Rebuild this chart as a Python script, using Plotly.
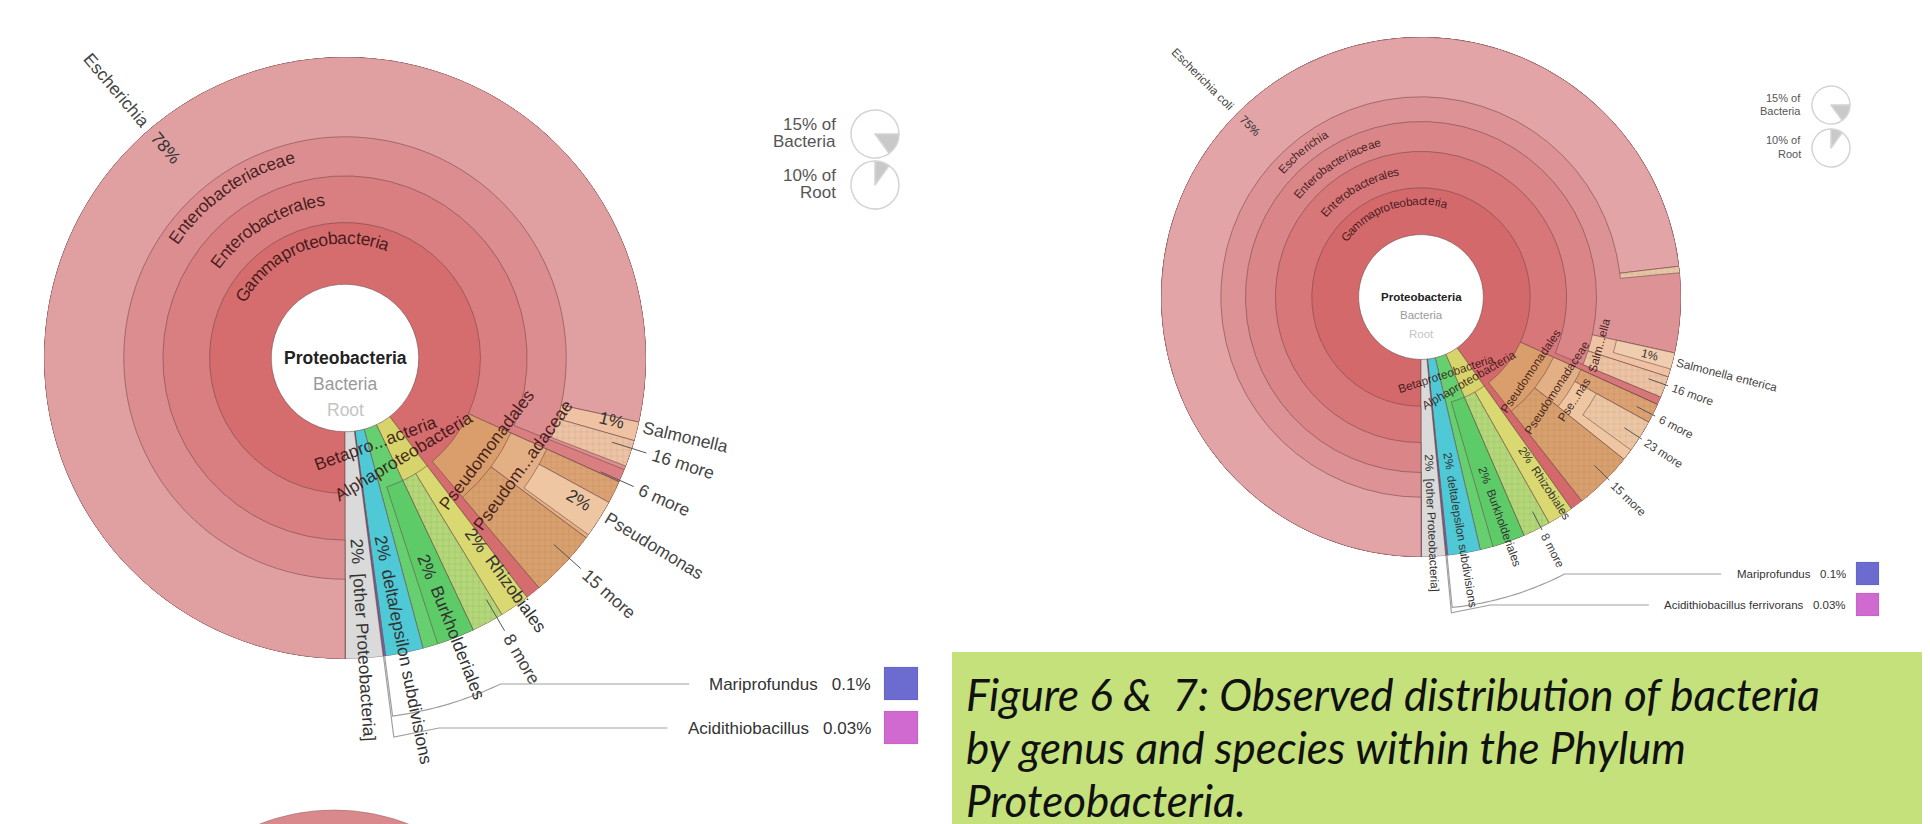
import math
import plotly.graph_objects as go

W, H = 1930, 824

# ======================= DATA =======================
# Figure 6 (genus level) - values in % of Proteobacteria, Krona order (clockwise from 6 o'clock)
f6_ids = ["Gammaproteobacteria", "Enterobacterales", "Enterobacteriaceae", "Escherichia", "Salmonella", "16 more",
          "Pseudomonadales", "Pseudomonadaceae", "6 more", "Pseudomonas", "15 more",
          "Alphaproteobacteria", "Rhizobiales", "8 more",
          "Betaproteobacteria", "Burkholderiales",
          "deltaepsilon subdivisions", "Mariprofundus", "Acidithiobacillus", "[other Proteobacteria]"]
f6_parents = ["", "Gammaproteobacteria", "Enterobacterales", "Enterobacteriaceae", "Enterobacteriaceae", "Enterobacteriaceae",
              "Gammaproteobacteria", "Pseudomonadales", "Pseudomonadaceae", "Pseudomonadaceae", "Pseudomonadales",
              "", "Alphaproteobacteria", "Alphaproteobacteria",
              "", "Betaproteobacteria",
              "", "", "", ""]
f6_values = [88.6, 80.8, 80.1, 77.5, 1.0, 1.4,
             7.0, 3.4, 1.2, 2.0, 3.6,
             3.3, 1.6, 1.7,
             2.8, 2.0,
             2.0, 0.1, 0.03, 2.0]
f6_pct = {"Escherichia": "78%", "Salmonella": "1%", "Pseudomonas": "2%", "Rhizobiales": "2%",
          "Burkholderiales": "2%", "deltaepsilon subdivisions": "2%", "[other Proteobacteria]": "2%"}
f6_key_names = ["Mariprofundus", "Acidithiobacillus"]
f6_key_pcts = ["0.1%", "0.03%"]

# Figure 7 (species level)
f7_ids = ["Gammaproteobacteria", "Enterobacterales", "Enterobacteriaceae", "Escherichia", "Escherichia coli",
          "other Escherichia", "Salmonella", "Salmonella enterica", "16 more",
          "Pseudomonadales", "Pseudomonadaceae", "6 more", "Pseudomonas", "23 more", "15 more",
          "Alphaproteobacteria", "Rhizobiales", "8 more",
          "Betaproteobacteria", "Burkholderiales",
          "deltaepsilon subdivisions", "Mariprofundus", "Acidithiobacillus ferrivorans", "[other Proteobacteria]"]
f7_parents = ["", "Gammaproteobacteria", "Enterobacterales", "Enterobacteriaceae", "Escherichia",
              "Escherichia", "Enterobacteriaceae", "Salmonella", "Enterobacteriaceae",
              "Gammaproteobacteria", "Pseudomonadales", "Pseudomonadaceae", "Pseudomonadaceae", "Pseudomonas", "Pseudomonadales",
              "", "Alphaproteobacteria", "Alphaproteobacteria",
              "", "Betaproteobacteria",
              "", "", "", ""]
f7_values = [89.3, 81.0, 80.5, 77.7, 72.4,
             0.4, 1.5, 1.0, 1.3,
             7.5, 3.9, 1.2, 2.7, 2.0, 3.6,
             3.3, 1.6, 1.7,
             2.8, 2.0,
             2.0, 0.1, 0.03, 1.5]
f7_pct = {"Escherichia coli": "75%", "Salmonella enterica": "1%", "Rhizobiales": "2%",
          "Burkholderiales": "2%", "deltaepsilon subdivisions": "2%", "[other Proteobacteria]": "2%"}
f7_key_names = ["Mariprofundus", "Acidithiobacillus ferrivorans"]
f7_key_pcts = ["0.1%", "0.03%"]

# Krona "share of ancestor" pies
share_labels = ["15% of", "10% of"]
share_parents = ["Bacteria", "Root"]
share_values = [15, 10]

caption_lines = ["Figure 6 &  7: Observed distribution of bacteria",
                 "by genus and species within the Phylum",
                 "Proteobacteria."]

# ======================= STYLE =======================
FONT = "Liberation Sans"
COL = {
    "Gammaproteobacteria": "#d56c6e", "Enterobacterales": "#d97f81", "Enterobacteriaceae": "#dc8d8f",
    "Escherichia": "#e0a0a2", "Escherichia coli": "#e2a4a6", "other Escherichia": "#e9c7a6",
    "Salmonella": "#eec2a2", "Salmonella enterica": "#f1cdb0", "16 more": "#eec3a4",
    "Pseudomonadales": "#d99e6b", "Pseudomonadaceae": "#e3b086", "6 more": "#dca272",
    "Pseudomonas": "#eec6a2", "23 more": "#edc7a4", "15 more": "#d99f6c",
    "Alphaproteobacteria": "#d6d46b", "Rhizobiales": "#dad870", "8 more": "#b3d878",
    "Betaproteobacteria": "#66cf70", "Burkholderiales": "#5dcc68",
    "deltaepsilon subdivisions": "#4fc9d6", "Mariprofundus": "#6b6bd0",
    "Acidithiobacillus": "#d06ad0", "Acidithiobacillus ferrivorans": "#d06ad0",
    "[other Proteobacteria]": "#dadada",
}
COL7 = dict(COL)
COL7.update({"Gammaproteobacteria": "#d4696c", "Enterobacterales": "#d7777a", "Enterobacteriaceae": "#da8588",
             "Escherichia": "#dd9396"})
HATCH = {"16 more", "6 more", "15 more", "8 more", "23 more", "other Escherichia"}

S6 = dict(cx=337, cy=350, R=301, rings=[0.245, 0.45, 0.605, 0.735], fs=17.5)
S7 = dict(cx=1413, cy=289, R=260, rings=[0.24, 0.42, 0.56, 0.675, 0.77], fs=11.8)

# Helvetica/Arial advance widths (1/1000 em)
_HW = {' ': 278, '%': 889, '.': 278, '/': 278, '[': 278, ']': 278, '&': 667, ':': 278, '0': 556, '1': 556,
       '2': 556, '3': 556, '5': 556, '6': 556, '7': 556, '8': 556, '9': 556,
       'A': 667, 'B': 667, 'C': 722, 'E': 667, 'G': 778, 'P': 667, 'R': 722, 'S': 667, 'M': 833,
       'a': 556, 'b': 556, 'c': 500, 'd': 556, 'e': 556, 'f': 278, 'g': 556, 'h': 556, 'i': 222, 'j': 222,
       'k': 500, 'l': 222, 'm': 833, 'n': 556, 'o': 556, 'p': 556, 'q': 556, 'r': 333, 's': 500, 't': 278,
       'u': 556, 'v': 500, 'w': 722, 'x': 500, 'y': 500, 'z': 500}


def cw(ch):
    return _HW.get(ch, 556) / 1000.0


def tw(s, size):
    return sum(cw(c) for c in s) * size


# ======================= LAYOUT HELPERS =======================
def layout_tree(ids, parents, values, start=180.0):
    val = dict(zip(ids, values))
    kids = {}
    for i, p in zip(ids, parents):
        kids.setdefault(p, []).append(i)
    total = sum(val[c] for c in kids[""])
    k = 360.0 / total
    geo = {}

    def place(n, a0, d):
        geo[n] = (a0, a0 + val[n] * k, d)
        a = a0
        for c in kids.get(n, []):
            place(c, a, d + 1)
            a += val[c] * k

    a = start
    for c in kids[""]:
        place(c, a, 1)
        a += val[c] * k
    return geo


def mid(geo, n):
    a0, a1, _ = geo[n]
    return ((a0 + a1) / 2.0) % 360


def pt(S, theta, rf):
    t = math.radians(theta)
    return S["cx"] + rf * S["R"] * math.sin(t), S["cy"] - rf * S["R"] * math.cos(t)


def krona_trace(ids, geo, S, colors, subplot):
    order = sorted(ids, key=lambda n: geo[n][2])
    r, base, th, wd, col, pat = [], [], [], [], [], []
    for n in order:
        a0, a1, d = geo[n]
        b = S["rings"][d - 1]
        base.append(b)
        r.append(1 - b)
        th.append((a0 + a1) / 2.0)
        wd.append(a1 - a0)
        col.append(colors[n])
        pat.append("+" if n in HATCH else "")
    return go.Barpolar(r=r, base=base, theta=th, width=wd, subplot=subplot,
                       marker=dict(color=col, line=dict(color="rgba(110,70,70,0.55)", width=1),
                                   pattern=dict(shape=pat, fillmode="overlay", fgcolor="rgba(120,80,60,0.9)",
                                                fgopacity=0.25, size=6, solidity=0.12)),
                       hoverinfo="skip", showlegend=False)


def polar_layout(S):
    cx, cy, R = S["cx"], S["cy"], S["R"]
    return dict(domain=dict(x=[(cx - R) / W, (cx + R) / W], y=[(H - cy - R) / H, (H - cy + R) / H]),
                bgcolor="rgba(0,0,0,0)", bargap=0, hole=0,
                radialaxis=dict(range=[0, 1], visible=False, showgrid=False, showline=False, ticks=""),
                angularaxis=dict(visible=False, direction="clockwise", rotation=90, showgrid=False,
                                 showline=False, ticks=""))


ANN = []
SHAPES = []


def txt(x, y, s, size, color="#333", angle=0, xanchor="center", family=FONT):
    ANN.append(dict(x=x, y=y, xref="x", yref="y", text=s, showarrow=False, textangle=angle,
                    xanchor=xanchor, yanchor="middle", font=dict(family=family, size=size, color=color)))


def arc_text(S, theta_c, rf, s, size, color):
    rp = rf * S["R"]
    widths = [cw(c) * size for c in s]
    span = sum(widths) / rp
    top = math.cos(math.radians(theta_c)) >= 0
    t0 = math.radians(theta_c) + (-span / 2 if top else span / 2)
    sg = 1 if top else -1
    acc = 0
    for c, w in zip(s, widths):
        t = t0 + sg * (acc + w / 2) / rp
        acc += w
        if c == " ":
            continue
        x = S["cx"] + rp * math.sin(t)
        y = S["cy"] - rp * math.cos(t)
        ang = math.degrees(t) if top else math.degrees(t) - 180
        ang = (ang + 180) % 360 - 180
        txt(x, y, c, size, color, ang)


def tang_text(S, theta, rf, s, size, color, angle=None):
    x, y = pt(S, theta, rf)
    top = math.cos(math.radians(theta)) >= 0
    a = theta if top else theta - 180
    if angle is not None:
        a = angle
    a = (a + 180) % 360 - 180
    txt(x, y, s, size, color, a)


def radial_text(S, theta, r_start_px, s, size, color):
    """text reading outward (right half) starting at r_start_px"""
    w = tw(s, size)
    rc = (r_start_px + w / 2) / S["R"]
    x, y = pt(S, theta, rc)
    txt(x, y, s, size, color, theta - 90)
    return r_start_px + w


def line(pts, color="#9a9a9a", width=1):
    d = "M " + " L ".join("%.1f,%.1f" % p for p in pts)
    SHAPES.append(dict(type="path", path=d, xref="x", yref="y", layer="above",
                       line=dict(color=color, width=width)))


def leaf_label(S, geo, n, name, pct, outside, size, dth=0.0):
    th = mid(geo, n) + dth
    R = S["R"]
    a0, a1, d = geo[n]
    rin = S["rings"][d - 1]
    if outside:
        pr = 0.91 * R
        x, y = pt(S, th, pr / R)
        txt(x, y, pct, size, "#333", th - 90)
        radial_text(S, th, R + 0.3 * size, name, size, "#444")
    else:
        pc = ((rin + 1) / 2 + 0.02) * R
        x, y = pt(S, th, pc / R)
        txt(x, y, pct, size, "#333", th - 90)
        radial_text(S, th, pc + tw(pct, size) / 2 + 0.55 * size, name, size, "#333")


def more_label(S, geo, n, size, dth=0.0, r0=1.07):
    th = mid(geo, n) + dth
    line([pt(S, th, 0.93), pt(S, th, r0 - 0.02)], color="#555", width=1)
    radial_text(S, th, r0 * S["R"], n, size, "#444")


def outer_left_label(S, th, name, pct, size, gap=0.06):
    """left-half wide-leaf label: name outside the rim, percentage just inside (reads inward)"""
    R = S["R"]
    w = tw(name, size)
    rc = 1.0 + gap + w / 2 / R
    x, y = pt(S, th, rc)
    txt(x, y, name, size, "#444", th - 270)
    x, y = pt(S, th, 1.0 - 0.025 - tw(pct, size) / 2 / R)
    txt(x, y, pct, size, "#333", th - 270)


def key_leader(S, geo, n, y_label, x_label_end, name, pct, size, box, col, arc=True):
    th = mid(geo, n)
    R = S["R"]
    label = name + "\u00a0\u00a0\u00a0" + pct
    x_text_start = x_label_end - tw(label, size)
    txt(x_label_end, y_label, label, size, "#333", 0, xanchor="right")
    if arc:
        ra = 1.2
        c = (y_label - S["cy"]) / (ra * R)
        the = 180 - math.degrees(math.acos(max(-1, min(1, c))))
        pts = [pt(S, th, 1.0)]
        steps = 24
        for i in range(steps + 1):
            pts.append(pt(S, th + (the - th) * i / steps, ra))
        pts.append((x_text_start - 8, y_label))
    else:
        p1 = pt(S, th, 1.0)
        yb = y_label + 0.03 * R
        rb = (yb - S["cy"]) / (R * -math.cos(math.radians(th)))
        p2 = pt(S, th, rb)
        pts = [p1, p2, (p2[0] + 0.15 * R, y_label), (x_text_start - 8, y_label)]
    line(pts, color="#a0a0a0", width=1.2)
    SHAPES.append(dict(type="rect", xref="x", yref="y", x0=box[0], x1=box[1], y0=box[2], y1=box[3],
                       fillcolor=col, line=dict(color="rgba(0,0,0,0.08)", width=1), layer="above"))


# ======================= BUILD =======================
g6 = layout_tree(f6_ids, f6_parents, f6_values)
g7 = layout_tree(f7_ids, f7_parents, f7_values)

fig = go.Figure()
fig.add_trace(go.Scatter(x=[0], y=[0], mode="markers", marker=dict(opacity=0), hoverinfo="skip", showlegend=False))
fig.add_trace(krona_trace(f6_ids, g6, S6, COL, "polar"))
fig.add_trace(krona_trace(f7_ids, g7, S7, COL7, "polar2"))

# ---- Figure 6 texts ----
fs = S6["fs"]
dark = "rgba(50,15,15,0.88)"
txt(S6["cx"], 350, "<b>Proteobacteria</b>", 17.5, "#222")
txt(S6["cx"], 376, "Bacteria", 17.5, "#9a9a9a")
txt(S6["cx"], 402, "Root", 17.5, "#c4c4c4")
arc_text(S6, 340, 0.40, "Gammaproteobacteria", fs, dark)
arc_text(S6, 329, 0.53, "Enterobacterales", fs, dark)
arc_text(S6, 325, 0.69, "Enterobacteriaceae", fs, dark)
tang_text(S6, 160, 0.30, "Betapro...acteria", fs, dark)
tang_text(S6, 149, 0.38, "Alphaproteobacteria", fs, dark)
tang_text(S6, 123, 0.56, "Pseudomonadales", fs, dark, -53)
tang_text(S6, 121, 0.69, "Pseudom...adaceae", fs, dark, -54)
outer_left_label(S6, 319.5, "Escherichia", f6_pct["Escherichia"], fs, 0.02)
leaf_label(S6, g6, "Salmonella", "Salmonella", f6_pct["Salmonella"], True, fs, -1.0)
leaf_label(S6, g6, "Pseudomonas", "Pseudomonas", f6_pct["Pseudomonas"], True, fs, -1.0)
leaf_label(S6, g6, "Rhizobiales", "Rhizobiales", f6_pct["Rhizobiales"], False, fs, -1.5)
leaf_label(S6, g6, "Burkholderiales", "Burkholderiales", f6_pct["Burkholderiales"], False, fs)
leaf_label(S6, g6, "deltaepsilon subdivisions", "delta/epsilon subdivisions", f6_pct["deltaepsilon subdivisions"], False, fs)
leaf_label(S6, g6, "[other Proteobacteria]", "[other Proteobacteria]", f6_pct["[other Proteobacteria]"], False, fs)
more_label(S6, g6, "16 more", fs, -1.0)
more_label(S6, g6, "6 more", fs, -2.5)
more_label(S6, g6, "15 more", fs, -1.5)
more_label(S6, g6, "8 more", fs, -2.0)
key_leader(S6, g6, "Mariprofundus", 676, 865, f6_key_names[0], f6_key_pcts[0], 17,
           (876, 910, 659, 692), COL["Mariprofundus"], True)
key_leader(S6, g6, "Acidithiobacillus", 720, 865, f6_key_names[1], f6_key_pcts[1], 17,
           (876, 910, 703, 736), COL["Acidithiobacillus"], False)

# ---- Figure 7 texts ----
fs = S7["fs"]
txt(S7["cx"], 289, "<b>Proteobacteria</b>", 11.5, "#222")
txt(S7["cx"], 307, "Bacteria", 11.5, "#9a9a9a")
txt(S7["cx"], 326, "Root", 11.5, "#c4c4c4")
arc_text(S7, 341, 0.37, "Gammaproteobacteria", fs, dark)
arc_text(S7, 330, 0.49, "Enterobacterales", fs, dark)
arc_text(S7, 327, 0.615, "Enterobacteriaceae", fs, dark)
arc_text(S7, 321, 0.725, "Escherichia", fs, dark)
tang_text(S7, 162, 0.31, "Betaproteobacteria", fs, dark)
tang_text(S7, 150, 0.37, "Alphaproteobacteria", fs, dark)
tang_text(S7, 124, 0.51, "Pseudomonadales", fs, dark, -56)
tang_text(S7, 123.5, 0.63, "Pseudomonadaceae", fs, dark, -57)
tang_text(S7, 124, 0.71, "Pse...nas", fs, dark, -57)
tang_text(S7, 105, 0.71, "Salm...ella", fs, dark, -75)
outer_left_label(S7, 315, "Escherichia coli", f7_pct["Escherichia coli"], fs, 0.03)
leaf_label(S7, g7, "Salmonella enterica", "Salmonella enterica", f7_pct["Salmonella enterica"], True, fs)
leaf_label(S7, g7, "Rhizobiales", "Rhizobiales", f7_pct["Rhizobiales"], False, fs, -1.0)
leaf_label(S7, g7, "Burkholderiales", "Burkholderiales", f7_pct["Burkholderiales"], False, fs)
leaf_label(S7, g7, "deltaepsilon subdivisions", "delta/epsilon subdivisions", f7_pct["deltaepsilon subdivisions"], False, fs)
leaf_label(S7, g7, "[other Proteobacteria]", "[other Proteobacteria]", f7_pct["[other Proteobacteria]"], False, fs)
more_label(S7, g7, "16 more", fs, -0.5, 1.03)
more_label(S7, g7, "6 more", fs, 0.3, 1.03)
more_label(S7, g7, "23 more", fs, 0.3, 1.03)
more_label(S7, g7, "15 more", fs, -1.0, 1.03)
more_label(S7, g7, "8 more", fs, -1.0, 1.03)
key_leader(S7, g7, "Mariprofundus", 566, 1840, f7_key_names[0], f7_key_pcts[0], 11.5,
           (1848, 1871, 554, 577), COL["Mariprofundus"], True)
key_leader(S7, g7, "Acidithiobacillus ferrivorans", 597, 1840, f7_key_names[1], f7_key_pcts[1], 11.5,
           (1848, 1871, 585, 608), COL["Acidithiobacillus ferrivorans"], False)

# ---- share pies ----
pie_specs = [((867, 126, 24), 17, 830, 17), ((867, 177, 24), 17, 830, 17),
             ((1823, 97, 19), 11, 1795, 13), ((1823, 140, 19), 11, 1795, 14)]
for k, ((pcx, pcy, pr), pfs, tx, dy) in enumerate(pie_specs):
    j = k % 2
    fig.add_trace(go.Pie(values=[share_values[j], 100 - share_values[j]], sort=False, direction="clockwise",
                         rotation=90 if j == 0 else 0, textinfo="none", hoverinfo="skip", showlegend=False,
                         marker=dict(colors=["#c9c9c9", "#ffffff"], line=dict(color="#d4d4d4", width=1.5)),
                         domain=dict(x=[(pcx - pr) / W, (pcx + pr) / W], y=[(H - pcy - pr) / H, (H - pcy + pr) / H])))
    txt(tx, pcy - dy / 2 - 1, share_labels[j], pfs, "#555", 0, xanchor="right")
    txt(tx, pcy + dy / 2 - 1, share_parents[j], pfs, "#555", 0, xanchor="right")

# ---- partial chart at bottom-left & caption box ----
SHAPES.append(dict(type="circle", xref="x", yref="y", x0=326 - 206, x1=326 + 206, y0=802, y1=802 + 412,
                   fillcolor="#d9898c", line=dict(color="rgba(150,90,90,0.5)", width=1), layer="below"))
SHAPES.append(dict(type="rect", xref="x", yref="y", x0=944, x1=1930, y0=644, y1=824,
                   fillcolor="#c4e17c", line=dict(width=0), layer="below"))
for i, s in enumerate(caption_lines):
    txt(956, 686 + i * 53, "<i>" + s + "</i>", 44, "#111", 0, xanchor="left", family="Lato")

fig.update_layout(
    width=W, height=H, margin=dict(l=0, r=0, t=0, b=0),
    paper_bgcolor="white", plot_bgcolor="white", showlegend=False,
    xaxis=dict(range=[0, W], visible=False, fixedrange=True, domain=[0, 1]),
    yaxis=dict(range=[H, 0], visible=False, fixedrange=True, domain=[0, 1]),
    polar=polar_layout(S6), polar2=polar_layout(S7),
    annotations=ANN, shapes=SHAPES,
)
fig.write_html("out.html")
